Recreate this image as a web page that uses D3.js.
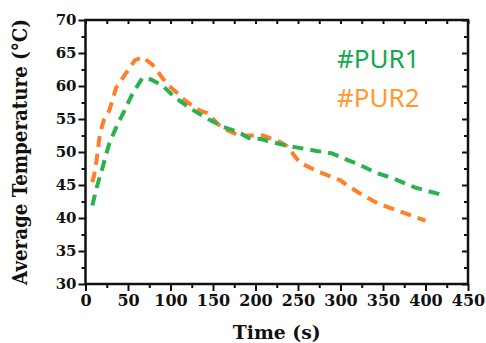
<!DOCTYPE html>
<html>
<head>
<meta charset="utf-8">
<script src="https://cdn.jsdelivr.net/npm/d3@7"></script>
<style>
	body { margin: 0; background: #fff; }
	svg { display: block; }
	.tick text { font-family: 'DejaVu Serif', serif; font-weight: bold; fill: #111; }
</style>
</head>
<body>
<div id="chart"></div>
<script>
// PUR1 (green) readings: time (s) / average temperature (°C)
const pur1Time = [8, 14, 20, 28, 37, 46, 54, 60, 67, 77, 91, 105, 119, 131, 147, 162, 173, 183, 192, 205, 220, 235, 248, 270, 290, 310, 320, 341, 362, 388, 414, 421]
const pur1Temp = [41.9, 45.0, 47.6, 51.3, 54.0, 56.3, 58.5, 59.8, 61.2, 61.0, 60.0, 58.3, 57.0, 56.0, 54.8, 53.8, 53.3, 52.8, 52.1, 52.0, 51.5, 51.0, 50.7, 50.2, 49.8, 48.7, 48.2, 46.9, 46.0, 44.6, 43.7, 43.4]

// PUR2 (orange)
const pur2Time = [8, 10, 13, 17, 22, 28, 36, 50, 58, 67, 79, 90, 95, 111, 117, 134, 143, 158, 167, 181, 190, 209, 229, 237, 252, 276, 300, 305, 323, 344, 370, 400]
const pur2Temp = [45.4, 46.4, 48.7, 52.8, 55.0, 56.3, 59.7, 62.4, 63.9, 64.4, 63.2, 61.3, 60.4, 58.6, 57.8, 56.3, 55.9, 54.0, 53.3, 52.5, 52.5, 52.5, 51.5, 50.9, 48.4, 46.9, 45.7, 45.2, 43.7, 42.2, 41.0, 39.6]

const xTicks = [0, 50, 100, 150, 200, 250, 300, 350, 400, 450]
const yTicks = [30, 35, 40, 45, 50, 55, 60, 65, 70]
const seriesNames = ['#PUR1', '#PUR2']

const W = 486, H = 343
const margin = { top: 20, right: 18, bottom: 59, left: 85.5 }
const iw = W - margin.left - margin.right
const ih = H - margin.top - margin.bottom

const lineColors = ['#2bb24c', '#ff7f2a']
const legendColors = ['#12a84f', '#ff9a30']

const svg = d3.select('#chart').append('svg').attr('width', W).attr('height', H)
const g = svg.append('g').attr('transform', 'translate(' + margin.left + ',' + margin.top + ')')

const x = d3.scaleLinear().domain([0, 450]).range([0, iw])
const y = d3.scaleLinear().domain([30, 70]).range([ih, 0])

const xMinor = d3.range(25, 450, 50)
const yMinor = d3.range(32.5, 70, 5)

function styleAxis(sel, fontSize) {
	sel.select('.domain').remove()
	sel.selectAll('.tick line').attr('stroke', '#111').attr('stroke-width', 2)
	sel.selectAll('.tick text').style('font-size', fontSize + 'px')
}

// bottom axis (ticks outward)
g.append('g').attr('transform', 'translate(0,' + ih + ')')
	.call(d3.axisBottom(x).tickValues(xTicks).tickSize(7).tickPadding(4))
	.call(styleAxis, 16)
g.append('g').attr('transform', 'translate(0,' + ih + ')')
	.call(d3.axisBottom(x).tickValues(xMinor).tickSize(4).tickFormat(''))
	.call(styleAxis, 16)

// left axis (ticks outward)
g.append('g')
	.call(d3.axisLeft(y).tickValues(yTicks).tickSize(7).tickPadding(2))
	.call(styleAxis, 15)
g.append('g')
	.call(d3.axisLeft(y).tickValues(yMinor).tickSize(4).tickFormat(''))
	.call(styleAxis, 15)

// top and right mirrored ticks (inward)
g.append('g')
	.call(d3.axisTop(x).tickValues(xTicks.concat(xMinor)).tickSize(-4).tickFormat(''))
	.call(styleAxis, 16)
g.append('g').attr('transform', 'translate(' + iw + ',0)')
	.call(d3.axisRight(y).tickValues(yTicks).tickSize(-6).tickFormat(''))
	.call(styleAxis, 16)
g.append('g').attr('transform', 'translate(' + iw + ',0)')
	.call(d3.axisRight(y).tickValues(yMinor).tickSize(-4).tickFormat(''))
	.call(styleAxis, 16)

// frame
g.append('rect')
	.attr('width', iw).attr('height', ih)
	.attr('fill', 'none').attr('stroke', '#111').attr('stroke-width', 2.5)

// lines
const line = d3.line()
	.x((d) => x(d[0]))
	.y((d) => y(d[1]))

const series = [
	d3.zip(pur1Time, pur1Temp),
	d3.zip(pur2Time, pur2Temp),
]

// draw orange first, green on top
;[1, 0].forEach((i) => {
	g.append('path')
		.attr('d', line(series[i]))
		.attr('fill', 'none')
		.attr('stroke', lineColors[i])
		.attr('stroke-width', 4)
		.attr('stroke-dasharray', '11,7')
})

// legend
seriesNames.forEach((name, i) => {
	svg.append('text')
		.attr('x', 337)
		.attr('y', 68 + i * 39)
		.attr('fill', legendColors[i])
		.style('font-family', "'Noto Sans', sans-serif")
		.style('font-size', '26px')
		.text(name)
})

// axis titles
svg.append('text')
	.attr('x', margin.left + iw / 2)
	.attr('y', 339)
	.attr('text-anchor', 'middle')
	.attr('textLength', 88)
	.attr('lengthAdjust', 'spacingAndGlyphs')
	.style('font-family', "'DejaVu Serif', serif")
	.style('font-weight', 'bold')
	.style('font-size', '19px')
	.attr('fill', '#111')
	.text('Time (s)')

svg.append('text')
	.attr('transform', 'translate(27,' + (margin.top + ih / 2) + ') rotate(-90)')
	.attr('text-anchor', 'middle')
	.attr('textLength', 266)
	.attr('lengthAdjust', 'spacingAndGlyphs')
	.style('font-family', "'DejaVu Serif', serif")
	.style('font-weight', 'bold')
	.style('font-size', '20px')
	.attr('fill', '#111')
	.text('Average Temperature (°C)')
</script>
</body>
</html>
